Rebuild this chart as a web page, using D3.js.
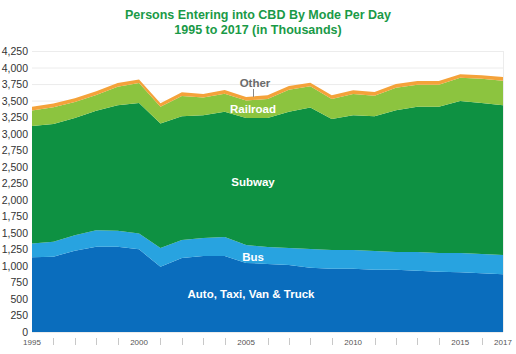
<!DOCTYPE html>
<meta charset="utf-8">
<head>
  <title>Persons Entering into CBD</title>
</head>
<style>
  body { margin: 0; background: #fff; }
  text { font-family: "Liberation Sans", Arial, Helvetica, sans-serif; }
  .title { font-size: 12.5px; font-weight: bold; fill: #1a9a47; text-anchor: middle; }
  .ylab { font-size: 10.5px; fill: #333; text-anchor: end; }
  .xlab { font-size: 8px; fill: #555; text-anchor: middle; }
  .inlab { font-size: 11.5px; font-weight: bold; fill: white; text-anchor: middle; }
</style>
<body>
<script src="https://cdnjs.cloudflare.com/ajax/libs/d3/7.8.5/d3.min.js"></script>
<script>

var years = [1995, 1996, 1997, 1998, 1999, 2000, 2001, 2002, 2003, 2004, 2005,
             2006, 2007, 2008, 2009, 2010, 2011, 2012, 2013, 2014, 2015, 2016, 2017];

var auto     = [1130, 1140, 1230, 1290, 1290, 1250, 985, 1120, 1150, 1150, 1045,
                1030, 1015, 970, 955, 955, 940, 940, 925, 910, 905, 890, 875];
var bus      = [210, 225, 235, 250, 240, 240, 285, 270, 270, 285, 270,
                255, 255, 285, 285, 285, 285, 270, 285, 285, 290, 290, 290];
var subway   = [1775, 1780, 1770, 1805, 1900, 1975, 1885, 1875, 1860, 1895, 1920,
                1950, 2060, 2140, 1980, 2040, 2040, 2145, 2195, 2210, 2300, 2285, 2265];
var railroad = [235, 255, 245, 240, 280, 300, 250, 305, 265, 275, 265,
                290, 335, 320, 305, 320, 310, 340, 335, 335, 350, 365, 370];
var other    = [55, 55, 55, 55, 55, 55, 55, 55, 55, 55, 55,
                55, 55, 55, 55, 55, 55, 55, 55, 55, 55, 55, 55];

var modes = ["auto", "bus", "subway", "railroad", "other"];
var colors = ["#0a6dbd", "#28a3e0", "#0e9142", "#8cc43f", "#f4a23a"];

var yTicks = d3.range(0, 4251, 250);
var xLabelYears = [1995, 2000, 2005, 2010, 2015, 2017];

var rows = years.map(function(y, i) {
  return { year: y, auto: auto[i], bus: bus[i], subway: subway[i], railroad: railroad[i], other: other[i] };
});

var width = 516, height = 354;
var x0 = 32, x1 = 503, yBottom = 332, yTop = 51;

var svg = d3.select("body").append("svg")
  .attr("width", width)
  .attr("height", height);

var x = d3.scaleLinear().domain([1995, 2017]).range([x0, x1]);
var y = d3.scaleLinear().domain([0, 4250]).range([yBottom, yTop]);

// title
svg.append("text").attr("class", "title").attr("x", 258).attr("y", 19)
  .text("Persons Entering into CBD By Mode Per Day");
svg.append("text").attr("class", "title").attr("x", 258).attr("y", 34)
  .text("1995 to 2017 (in Thousands)");

// gridlines
svg.append("g").selectAll("line")
  .data(yTicks)
  .enter().append("line")
  .attr("x1", x0).attr("x2", x1)
  .attr("y1", function(d) { return y(d) + 0.5; })
  .attr("y2", function(d) { return y(d) + 0.5; })
  .style("stroke", "#ececec");

svg.append("line")
  .attr("x1", x1 + 0.5).attr("x2", x1 + 0.5)
  .attr("y1", yTop).attr("y2", yBottom)
  .style("stroke", "#ececec");

// y labels
svg.append("g").selectAll("text")
  .data(yTicks)
  .enter().append("text")
  .attr("class", "ylab")
  .attr("x", 28)
  .attr("y", function(d) { return y(d) + 4; })
  .text(function(d) { return d3.format(",")(d); });

// stacked areas
var stack = d3.stack().keys(modes);
var series = stack(rows);

var area = d3.area()
  .x(function(d) { return x(d.data.year); })
  .y0(function(d) { return y(d[0]); })
  .y1(function(d) { return y(d[1]); });

svg.append("g").selectAll("path")
  .data(series)
  .enter().append("path")
  .style("fill", function(d, i) { return colors[i]; })
  .attr("d", area);

// x axis ticks and labels
svg.append("g").selectAll("line")
  .data(years.filter(function(d) { return xLabelYears.indexOf(d) < 0; }))
  .enter().append("line")
  .attr("x1", function(d) { return Math.round(x(d)) + 0.5; })
  .attr("x2", function(d) { return Math.round(x(d)) + 0.5; })
  .attr("y1", 338).attr("y2", 345)
  .style("stroke", "#c8c8c8");

svg.append("g").selectAll("text")
  .data(xLabelYears)
  .enter().append("text")
  .attr("class", "xlab")
  .attr("x", function(d) { return x(d); })
  .attr("y", 345)
  .text(function(d) { return d; });

// in-area labels
svg.append("text").attr("x", 255).attr("y", 87)
  .style("font-size", "11.5px").style("font-weight", "bold")
  .style("fill", "#6b6b6b").style("text-anchor", "middle")
  .text("Other");
svg.append("line")
  .attr("x1", 253.5).attr("x2", 253.5).attr("y1", 89).attr("y2", 97)
  .style("stroke", "#888");

var inLabels = [
  { t: "Railroad", x: 253, y: 113 },
  { t: "Subway", x: 253, y: 186 },
  { t: "Bus", x: 253, y: 261 },
  { t: "Auto, Taxi, Van & Truck", x: 251, y: 298 }
];
svg.append("g").selectAll("text")
  .data(inLabels)
  .enter().append("text")
  .attr("class", "inlab")
  .attr("x", function(d) { return d.x; })
  .attr("y", function(d) { return d.y; })
  .text(function(d) { return d.t; });

</script>
</body>
</html>
